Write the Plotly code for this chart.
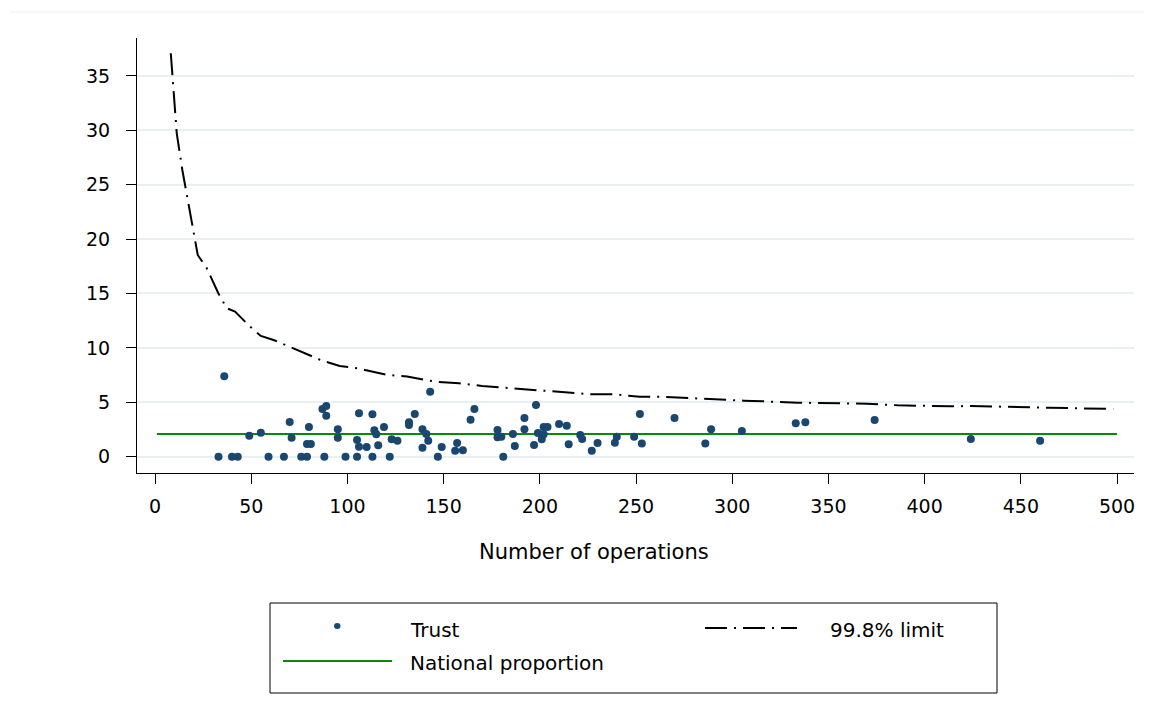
import plotly.graph_objects as go

# ---------------- data ----------------
trust_n = [36, 33, 40, 43, 49, 55, 59, 67, 70, 71, 76, 79, 80, 79, 81, 87, 89, 89, 88,
           95, 95, 99, 105, 106, 105, 106, 110, 113, 113, 114, 115, 116, 119, 122, 123,
           126, 132, 132, 135, 139, 141, 142, 139, 143, 147, 149, 157, 156, 160, 164,
           166, 178, 178, 180, 181, 186, 187, 192, 192, 197, 198, 199, 202, 204, 202,
           201, 210, 214, 215, 221, 222, 227, 230, 239, 240, 249, 252, 253, 270, 286,
           289, 305, 333, 338, 374, 424, 460]
trust_pct = [7.39, 0, 0, 0, 1.93, 2.21, 0, 0, 3.19, 1.75, 0, 0, 2.73, 1.17, 1.17, 4.38,
             4.66, 3.77, 0, 2.52, 1.75, 0, 0, 3.99, 1.53, 0.92, 0.89, 3.89, 0, 2.43, 2.06,
             1.05, 2.73, 0, 1.60, 1.47, 3.16, 2.91, 3.92, 2.52, 2.09, 1.47, 0.83, 5.97, 0,
             0.89, 1.26, 0.55, 0.59, 3.40, 4.38, 2.45, 1.78, 1.84, 0, 2.09, 0.98, 3.56,
             2.52, 1.08, 4.75, 2.18, 2.73, 2.73, 2.06, 1.60, 3.00, 2.85, 1.14, 1.99, 1.63,
             0.55, 1.26, 1.29, 1.84, 1.84, 3.92, 1.20, 3.56, 1.20, 2.52, 2.36, 3.07, 3.16,
             3.37, 1.63, 1.47]

limit_n = [8.2, 9.2, 11.3, 14.2, 18.2, 22.2, 26.9, 32.9, 37.3, 41.6, 49.4, 55, 62, 70,
           78, 86, 96, 105, 121, 131, 146, 158, 170, 185, 200, 211, 226, 238, 252, 264,
           273, 280, 306, 316, 334, 370, 386, 413, 424, 465, 493, 498]
limit_pct = [37.08, 34.47, 29.72, 26.35, 22.52, 18.54, 17.32, 15.02, 13.64, 13.33,
             11.95, 11.1, 10.7, 10.1, 9.5, 8.89, 8.34, 8.13, 7.51, 7.36, 6.89, 6.75, 6.50,
             6.29, 6.04, 5.92, 5.74, 5.74, 5.51, 5.51, 5.42, 5.37, 5.15, 5.09, 4.96, 4.87,
             4.72, 4.63, 4.66, 4.50, 4.41, 4.38]

national_n = [1, 500]
national_pct = [2.09, 2.09]

x_ticks = [0, 50, 100, 150, 200, 250, 300, 350, 400, 450, 500]
y_ticks = [0, 5, 10, 15, 20, 25, 30, 35]

legend_labels = ["Trust", "99.8% limit", "National proportion"]
x_title = "Number of operations"

# ---------------- styling ----------------
FONT = "DejaVu Sans"
FS = 19
FS_LEG = 20
FS_TITLE = 21
NAVY = "#1a476f"
GREEN = "#0a8a0a"
GRID = "#e8f0f2"
LIMIT_DASH = "22px,7px,2px,7px"

# the page adds an 8px body margin: screen = figure + OFF
OFF = 8
W, H = 1152, 720
# plot area in screen pixels (as measured on the reference)
SX0, SX1, SY0, SY1 = 137, 1134, 38, 473
L, T = SX0 - OFF, SY0 - OFF
PW, PH = SX1 - SX0, SY1 - SY0
R, B = W - L - PW, H - T - PH


def px(X):
    return (X - SX0) / PW


def py(Y):
    return (SY1 - Y) / PH


fig = go.Figure()

fig.add_trace(go.Scatter(x=national_n, y=national_pct, mode="lines",
                         line=dict(color=GREEN, width=2), name=legend_labels[2],
                         showlegend=False, hoverinfo="skip"))
fig.add_trace(go.Scatter(x=limit_n, y=limit_pct, mode="lines",
                         line=dict(color="black", width=2, dash=LIMIT_DASH),
                         name=legend_labels[1], showlegend=False))
fig.add_trace(go.Scatter(x=trust_n, y=trust_pct, mode="markers",
                         marker=dict(color=NAVY, size=8, line=dict(width=0)),
                         name=legend_labels[0], showlegend=False))

# ---------------- legend drawn as a boxed key ----------------
shapes = [
    dict(type="rect", xref="paper", yref="paper", x0=px(270), x1=px(997), y0=py(603), y1=py(693),
         line=dict(color="black", width=1), fillcolor="rgba(0,0,0,0)"),
    dict(type="circle", xref="paper", yref="paper", x0=px(334), x1=px(340.5), y0=py(623), y1=py(629),
         line=dict(width=0), fillcolor=NAVY),
    dict(type="line", xref="paper", yref="paper", x0=px(705), x1=px(797), y0=py(628), y1=py(628),
         line=dict(color="black", width=2, dash=LIMIT_DASH)),
    dict(type="line", xref="paper", yref="paper", x0=px(283), x1=px(392), y0=py(661), y1=py(661),
         line=dict(color=GREEN, width=2)),
    dict(type="line", xref="paper", yref="paper", x0=px(10), x1=px(1152), y0=py(12), y1=py(12),
         line=dict(color="#eeeeee", width=1)),
]
annotations = [
    dict(text=legend_labels[0], xref="paper", yref="paper", x=px(408), y=py(630),
         xanchor="left", yanchor="middle", showarrow=False, font=dict(family=FONT, size=FS_LEG, color="black")),
    dict(text=legend_labels[1], xref="paper", yref="paper", x=px(828), y=py(630),
         xanchor="left", yanchor="middle", showarrow=False, font=dict(family=FONT, size=FS_LEG, color="black")),
    dict(text=legend_labels[2], xref="paper", yref="paper", x=px(408), y=py(663),
         xanchor="left", yanchor="middle", showarrow=False, font=dict(family=FONT, size=FS_LEG, color="black")),
    dict(text=x_title, xref="paper", yref="paper", x=px(594), y=py(552),
         xanchor="center", yanchor="middle", showarrow=False, font=dict(family=FONT, size=FS_TITLE, color="black")),
]

fig.update_layout(
    width=W, height=H,
    margin=dict(l=L, r=R, t=T, b=B, pad=0),
    paper_bgcolor="white", plot_bgcolor="white",
    font=dict(family=FONT, size=FS, color="black"),
    showlegend=False,
    shapes=shapes, annotations=annotations,
    xaxis=dict(range=[-9.36, 508.8], tickvals=x_ticks, ticks="outside", ticklen=10,
               tickcolor="black", tickwidth=1, showline=True, linecolor="black", linewidth=1,
               showgrid=False, zeroline=False, ticklabelstandoff=6,
               tickfont=dict(family=FONT, size=FS, color="black")),
    yaxis=dict(range=[-1.50, 38.48], tickvals=y_ticks, ticks="outside", ticklen=10,
               tickcolor="black", tickwidth=1, showline=True, linecolor="black", linewidth=1,
               showgrid=True, gridcolor=GRID, gridwidth=2, zeroline=False, ticklabelstandoff=12,
               tickfont=dict(family=FONT, size=FS, color="black")),
)

fig.write_html("out.html")
